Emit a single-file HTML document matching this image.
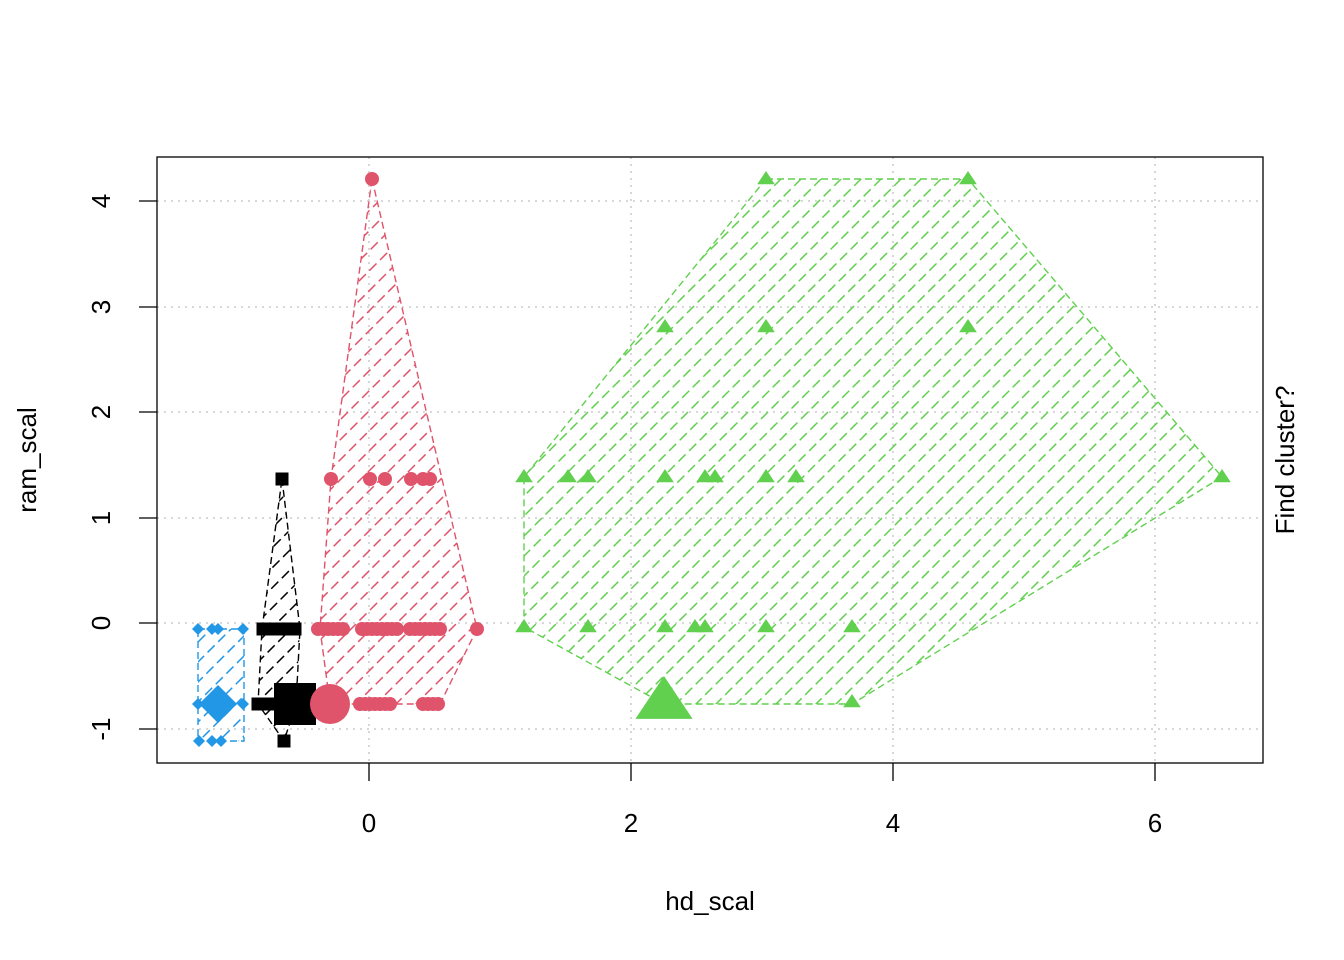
<!DOCTYPE html>
<html><head><style>body{margin:0;background:#fff}svg{display:block}text{font-family:"Liberation Sans",Arial,sans-serif}</style></head>
<body>
<svg id="s" width="1344" height="960" xmlns="http://www.w3.org/2000/svg">
<defs>
<clipPath id="cb"><polygon points="198,629 244,629 244,741 198,741"/></clipPath>
<clipPath id="ck"><polygon points="282,479 300,629 296,704 284,741 258,704 262,629"/></clipPath>
<clipPath id="cr"><polygon points="372,179 477,629 440,704 330,704 320,629 331,479"/></clipPath>
<clipPath id="cg"><polygon points="766,179 968,179 1222,477 852,704 664,704 524,627 524,477"/></clipPath>
</defs>
<g stroke="#d3d3d3" stroke-width="1.8" stroke-dasharray="2,5">
<line x1="369" y1="157" x2="369" y2="763"/><line x1="631" y1="157" x2="631" y2="763"/><line x1="893" y1="157" x2="893" y2="763"/><line x1="1155" y1="157" x2="1155" y2="763"/>
<line x1="157" y1="201" x2="1263" y2="201"/><line x1="157" y1="307" x2="1263" y2="307"/><line x1="157" y1="412" x2="1263" y2="412"/><line x1="157" y1="518" x2="1263" y2="518"/><line x1="157" y1="623" x2="1263" y2="623"/><line x1="157" y1="729" x2="1263" y2="729"/>
</g>
<g id="hatch" fill="none" stroke-width="1.5" stroke-dasharray="10,5"></g>
<g fill="none" stroke-width="1.4" stroke-dasharray="7,4">
<polygon stroke="#2297E6" points="198,629 244,629 244,741 198,741"/>
<polygon stroke="#000" points="282,479 300,629 296,704 284,741 258,704 262,629"/>
<polygon stroke="#DF536B" points="372,179 477,629 440,704 330,704 320,629 331,479"/>
<polygon stroke="#61D04F" points="766,179 968,179 1222,477 852,704 664,704 524,627 524,477"/>
</g>
<g id="pts"></g>
<rect x="157" y="157" width="1106" height="606" fill="none" stroke="#000" stroke-width="1.3"/>
<g stroke="#000" stroke-width="1.3">
<line x1="369" y1="763" x2="369" y2="781"/><line x1="631" y1="763" x2="631" y2="781"/><line x1="893" y1="763" x2="893" y2="781"/><line x1="1155" y1="763" x2="1155" y2="781"/>
<line x1="139" y1="201" x2="157" y2="201"/><line x1="139" y1="307" x2="157" y2="307"/><line x1="139" y1="412" x2="157" y2="412"/><line x1="139" y1="518" x2="157" y2="518"/><line x1="139" y1="623" x2="157" y2="623"/><line x1="139" y1="729" x2="157" y2="729"/>
</g>
<g font-size="26" text-anchor="middle">
<text x="369" y="832">0</text><text x="631" y="832">2</text><text x="893" y="832">4</text><text x="1155" y="832">6</text>
<text transform="translate(110,201) rotate(-90)">4</text><text transform="translate(110,307) rotate(-90)">3</text><text transform="translate(110,412) rotate(-90)">2</text><text transform="translate(110,518) rotate(-90)">1</text><text transform="translate(110,623) rotate(-90)">0</text><text transform="translate(110,729) rotate(-90)">-1</text>
<text x="710" y="910">hd_scal</text>
<text transform="translate(36,460) rotate(-90)">ram_scal</text>
<text transform="translate(1294,460) rotate(-90)">Find cluster?</text>
</g>
</svg>
<script>
var NS="http://www.w3.org/2000/svg";
function el(p,t,a){var e=document.createElementNS(NS,t);for(var k in a)e.setAttribute(k,a[k]);p.appendChild(e);return e;}
var h=document.getElementById("hatch");
[["cb","#2297E6"],["ck","#000"],["cr","#DF536B"],["cg","#61D04F"]].forEach(function(c){
 var g=el(h,"g",{"clip-path":"url(#"+c[0]+")",stroke:c[1]});
 for(var d=-1400;d<2400;d+=20){el(g,"line",{x1:d,y1:960,x2:d+960,y2:0});}
});
var P=document.getElementById("pts");
function sq(x,y,s,c){el(P,"rect",{x:x-s/2,y:y-s/2,width:s,height:s,fill:c});}
function ci(x,y,r,c){el(P,"circle",{cx:x,cy:y,r:r,fill:c});}
function di(x,y,r,c){el(P,"polygon",{points:(x)+","+(y-r)+" "+(x+r)+","+y+" "+x+","+(y+r)+" "+(x-r)+","+y,fill:c});}
function tr(x,y,s,c){el(P,"polygon",{points:x+","+(y-s)+" "+(x+s*1.1)+","+(y+s*0.65)+" "+(x-s*1.1)+","+(y+s*0.65),fill:c});}
var B="#2297E6";
[[198,629],[212,629],[218,629],[243,629],[198,704],[243,704],[199,741],[212,741],[221,741]].forEach(function(p){di(p[0],p[1],6,B)});
di(218,704,19,B);
var K="#000";
sq(282,479,13,K);sq(284,741,13,K);
for(var x=263;x<=296;x+=4)sq(x,629,13,K);
for(var x=258;x<=280;x+=4)sq(x,704,13,K);
sq(295,704,42,K);
var R="#DF536B";
[[372,179],[331,479],[370,479],[385,479],[411,479],[423,479],[430,479],[477,629],[330,704]].forEach(function(p){ci(p[0],p[1],7,R)});
for(var x=318;x<=343;x+=5)ci(x,629,7,R);
for(var x=362;x<=400;x+=5)ci(x,629,7,R);
for(var x=410;x<=440;x+=5)ci(x,629,7,R);
for(var x=360;x<=390;x+=5)ci(x,704,7,R);
for(var x=423;x<=440;x+=5)ci(x,704,7,R);
ci(330,704,20,R);
var G="#61D04F";
[[766,179],[968,179],[665,327],[766,327],[968,327],[524,477],[568,477],[588,477],[665,477],[705,477],[715,477],[766,477],[796,477],[1222,477],[524,627],[588,627],[665,627],[695,627],[705,627],[766,627],[852,627],[852,702]].forEach(function(p){tr(p[0],p[1],8,G)});
tr(664,702,26,G);
</script>
</body></html>
